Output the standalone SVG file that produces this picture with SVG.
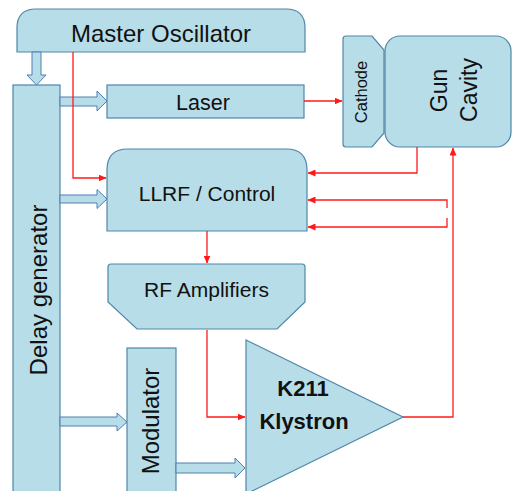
<svg xmlns="http://www.w3.org/2000/svg" width="512" height="491" viewBox="0 0 512 491">
<style>
.box{fill:#b7dde8;stroke:#4f86a8;stroke-width:1.2}
.barrow{fill:#b7dde8;stroke:#4f7fb0;stroke-width:1}
.t{font-family:"Liberation Sans",Arial,sans-serif;fill:#111;text-anchor:middle}
.red{fill:none;stroke:#ff1a1a;stroke-width:1.3}
.redm{fill:none;stroke:#ff1a1a;stroke-width:1.3;marker-end:url(#ah)}
</style>
<defs>
<marker id="ah" markerWidth="8" markerHeight="7" refX="7.5" refY="3.5" orient="auto" markerUnits="userSpaceOnUse">
<path d="M0,0 L8,3.5 L0,7 Z" fill="#ff1a1a"/>
</marker>
</defs>
<rect width="512" height="491" fill="#ffffff"/>

<g id="delay-generator">
<rect class="box" x="13" y="85" width="47" height="420"/>
<text class="t" font-size="24" transform="translate(47,290) rotate(-90)">Delay generator</text>
</g>

<g id="master-oscillator">
<path class="box" d="M17,52 L17,28 Q17,9 36,9 L286,9 Q305,9 305,28 L305,52 Z"/>
<text class="t" font-size="24" x="161" y="42">Master Oscillator</text>
</g>

<g id="laser">
<rect class="box" x="107" y="85" width="197" height="33"/>
<text class="t" font-size="21.5" x="203" y="110">Laser</text>
</g>

<g id="cathode">
<path class="box" d="M343,39 Q343,36 346,36 L372,36 L384,50 L384,133 L372,147 L346,147 Q343,147 343,144 Z"/>
<text class="t" font-size="16.5" transform="translate(367,92) rotate(-90)">Cathode</text>
</g>

<g id="gun-cavity">
<rect class="box" x="385" y="36" width="126" height="111" rx="15" ry="15"/>
<text class="t" font-size="23" transform="translate(447,90.5) rotate(-90)">Gun</text>
<text class="t" font-size="23" transform="translate(477,90) rotate(-90)">Cavity</text>
</g>

<g id="llrf-control">
<path class="box" d="M107,231 L107,170 Q107,149 128,149 L286,149 Q307,149 307,170 L307,231 Z"/>
<text class="t" font-size="21" x="207" y="201">LLRF / Control</text>
</g>

<g id="rf-amplifiers">
<path class="box" d="M108,302 L108,267 Q108,264 111,264 L302,264 Q305,264 305,267 L305,302 L277,329 L137,329 Z"/>
<text class="t" font-size="21" x="206.5" y="297">RF Amplifiers</text>
</g>

<g id="modulator">
<rect class="box" x="127" y="348" width="49" height="160"/>
<text class="t" font-size="24" transform="translate(159,421) rotate(-90)">Modulator</text>
</g>

<g id="klystron">
<path class="box" d="M246,340 L403,417 L246,494 Z"/>
<text class="t" font-size="22" font-weight="bold" x="303" y="396">K211</text>
<text class="t" font-size="22" font-weight="bold" x="304" y="429">Klystron</text>
</g>

<g id="connectors">
<polygon class="barrow" points="32,52 41,52 41,75 46,75 36.5,85 27,75 32,75"/>
<polygon class="barrow" points="60,97 97,97 97,91 107,101 97,111 97,106 60,106"/>
<polygon class="barrow" points="60,195 97,195 97,189.5 107,199 97,208.5 97,203 60,203"/>
<polygon class="barrow" points="60,417 117,417 117,413 127,422 117,431 117,426 60,426"/>
<polygon class="barrow" points="176,463 235,463 235,458 245,468 235,478 235,473 176,473"/>

<path class="redm" d="M73,52 V178 H106"/>
<path class="redm" d="M304,101 H342"/>
<path class="redm" d="M417,147 V173 H308"/>
<path class="redm" d="M447,208 V200 H308"/>
<path class="redm" d="M447,218 V227 H308"/>
<path class="redm" d="M403,417 H453 V148"/>
<path class="redm" d="M207,231 V263"/>
<path class="redm" d="M207,330 V417 H245"/>
</g>
</svg>
